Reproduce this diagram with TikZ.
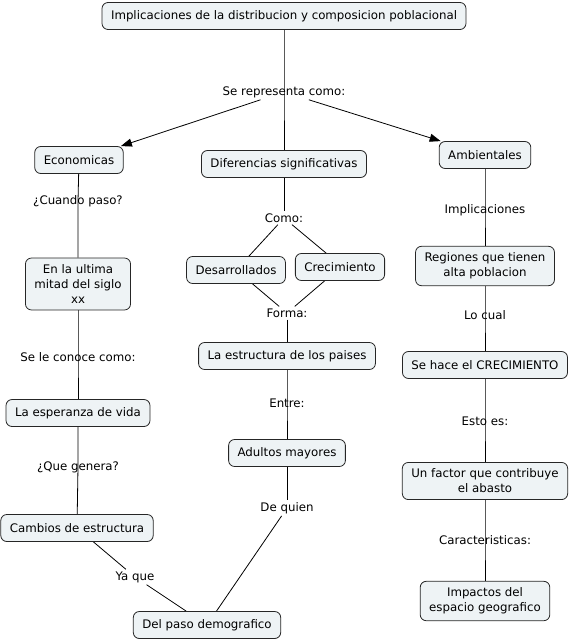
\documentclass[tikz,border=0pt]{standalone}
\usepackage{fontspec}
\setmainfont{DejaVu Sans}
\usetikzlibrary{arrows.meta,backgrounds}
\definecolor{boxfill}{HTML}{EEF3F5}
\begin{document}
\begin{tikzpicture}[x=1pt,y=-1pt,
  concept/.style={draw=black!85, fill=boxfill, rounded corners=6pt, line width=0.8pt,
    inner xsep=9pt, inner ysep=6.5pt, minimum height=27pt, align=center,
    font=\fontsize{11.8}{15}\selectfont},
  link/.style={inner sep=2pt, align=center, font=\fontsize{11.8}{15}\selectfont},
  conn/.style={draw=black, line width=0.8pt},
  arr/.style={conn, -{Triangle[length=11pt,width=8pt]}}]
\useasboundingbox (0,0) rectangle (572,642);

\node[concept] (top) at (284,16) {Implicaciones de la distribucion y composicion poblacional};
\node[link] (rep) at (284,92) {Se representa como:};
\node[concept] (eco) at (79,160) {Economicas};
\node[concept] (dif) at (284,164) {Diferencias significativas};
\node[concept] (amb) at (485,155) {Ambientales};

\node[link] (cuando) at (78,201) {¿Cuando paso?};
\node[concept] (ult) at (78,284) {En la ultima\\mitad del siglo\\xx};
\node[link] (conoce) at (78,357) {Se le conoce como:};
\node[concept] (esp) at (78,413) {La esperanza de vida};
\node[link] (genera) at (78,467) {¿Que genera?};
\node[concept] (camb) at (77,528) {Cambios de estructura};
\node[link] (yaque) at (135,577) {Ya que};
\node[concept] (paso) at (207,625) {Del paso demografico};

\node[link] (como) at (284,218) {Como:};
\node[concept] (des) at (236,270) {Desarrollados};
\node[concept] (cre) at (340,267) {Crecimiento};
\node[link] (forma) at (287,313) {Forma:};
\node[concept] (estr) at (287,356) {La estructura de los paises};
\node[link] (entre) at (287,403) {Entre:};
\node[concept] (adul) at (287,453) {Adultos mayores};
\node[link] (quien) at (287,508) {De quien};

\node[link] (impl) at (485,210) {Implicaciones};
\node[concept] (reg) at (485,266) {Regiones que tienen\\alta poblacion};
\node[link] (locual) at (485,315) {Lo cual};
\node[concept] (crec) at (485,365) {Se hace el CRECIMIENTO};
\node[link] (esto) at (485,421) {Esto es:};
\node[concept] (fac) at (485,481) {Un factor que contribuye\\el abasto};
\node[link] (carac) at (485,540) {Caracteristicas:};
\node[concept] (imp) at (485,601) {Impactos del\\espacio geografico};

\begin{pgfonlayer}{background}
\draw[conn] (top) -- (rep.center) -- (dif);
\draw[arr] (rep) -- (eco);
\draw[arr] (rep) -- (amb);

\draw[conn] (eco) -- (cuando.center) -- (ult);
\draw[conn] (ult) -- (conoce.center) -- (esp);
\draw[conn] (esp) -- (genera.center) -- (camb);
\draw[conn] (camb) -- (yaque);
\draw[conn] (yaque) -- (paso);

\draw[conn] (dif) -- (como);
\draw[conn] (como) -- (des.47);
\draw[conn] (como) -- (cre.135);
\draw[conn] (des.-40) -- (forma);
\draw[conn] (cre.222) -- (forma);
\draw[conn] (forma) -- (estr);
\draw[conn] (estr) -- (entre.center) -- (adul);
\draw[conn] (adul) -- (quien);
\draw[conn] (quien) -- (paso);

\draw[conn] (amb) -- (impl.center) -- (reg);
\draw[conn] (reg) -- (locual.center) -- (crec);
\draw[conn] (crec) -- (esto.center) -- (fac);
\draw[conn] (fac) -- (carac.center) -- (imp);
\end{pgfonlayer}
\end{tikzpicture}
\end{document}
